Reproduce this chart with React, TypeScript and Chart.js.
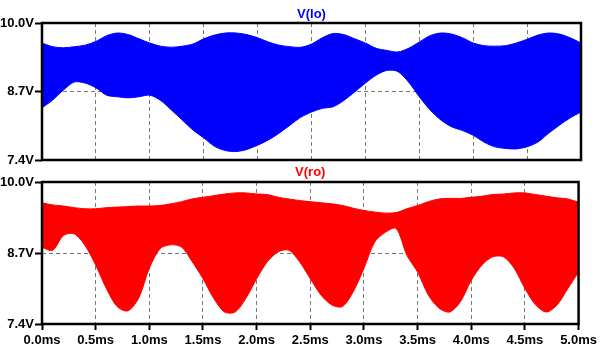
import React, { useEffect, useRef } from "react";
import { Chart, registerables } from "chart.js";
Chart.register(...registerables);

// time axis in ms
const timeMs = [
  0.0, 0.1, 0.2, 0.3, 0.4, 0.5, 0.6, 0.7, 0.8, 0.9,
  1.0, 1.1, 1.2, 1.3, 1.4, 1.5, 1.6, 1.7, 1.8, 1.9,
  2.0, 2.1, 2.2, 2.3, 2.4, 2.5, 2.6, 2.7, 2.8, 2.9,
  3.0, 3.1, 3.2, 3.3, 3.4, 3.5, 3.6, 3.7, 3.8, 3.9,
  4.0, 4.1, 4.2, 4.3, 4.4, 4.5, 4.6, 4.7, 4.8, 4.9,
  5.0,
];

// V(lo) envelope (upper / lower extent of the fast ripple)
const loUpper = [
  9.62, 9.55, 9.53, 9.55, 9.58, 9.65, 9.76, 9.81, 9.78, 9.70,
  9.62, 9.56, 9.54, 9.56, 9.60, 9.70, 9.77, 9.81, 9.81, 9.78,
  9.72, 9.64, 9.58, 9.55, 9.54, 9.60, 9.72, 9.80, 9.78, 9.70,
  9.62, 9.52, 9.48, 9.45, 9.52, 9.64, 9.76, 9.81, 9.79, 9.72,
  9.62, 9.57, 9.56, 9.57, 9.62, 9.69, 9.77, 9.81, 9.79, 9.72,
  9.62,
];
const loLower = [
  8.39, 8.54, 8.73, 8.88, 8.86, 8.77, 8.63, 8.60, 8.58, 8.60,
  8.63, 8.53, 8.35, 8.16, 7.97, 7.82, 7.66, 7.58, 7.56, 7.60,
  7.68, 7.78, 7.91, 8.06, 8.21, 8.31, 8.38, 8.41, 8.53, 8.69,
  8.86, 9.01, 9.10, 9.08, 8.88, 8.60, 8.35, 8.16, 8.03, 7.96,
  7.87, 7.74, 7.65, 7.62, 7.61, 7.65, 7.74, 7.91, 8.06, 8.20,
  8.31,
];

// V(ro) envelope
const roUpper = [
  9.62, 9.58, 9.56, 9.53, 9.51, 9.51, 9.53, 9.54, 9.55, 9.56,
  9.56, 9.57, 9.60, 9.64, 9.69, 9.72, 9.75, 9.78, 9.80, 9.80,
  9.78, 9.77, 9.72, 9.69, 9.66, 9.64, 9.62, 9.60, 9.57, 9.52,
  9.48, 9.45, 9.43, 9.44, 9.51, 9.57, 9.64, 9.69, 9.70, 9.70,
  9.72, 9.74, 9.77, 9.78, 9.80, 9.80, 9.77, 9.74, 9.71, 9.69,
  9.63,
];
const roLower = [
  8.80, 8.75, 9.02, 9.05, 8.84, 8.48, 8.05, 7.72, 7.64, 7.87,
  8.42, 8.78, 8.85, 8.81, 8.54, 8.23, 7.87, 7.62, 7.62, 7.87,
  8.23, 8.54, 8.72, 8.75, 8.54, 8.23, 7.93, 7.75, 7.72, 7.99,
  8.42, 8.90, 9.08, 9.15, 8.66, 8.35, 7.93, 7.69, 7.62, 7.81,
  8.20, 8.48, 8.63, 8.63, 8.42, 8.05, 7.75, 7.62, 7.75, 8.05,
  8.35,
];

const xTickValues = [0, 0.5, 1, 1.5, 2, 2.5, 3, 3.5, 4, 4.5, 5];
const xTickLabels = [
  "0.0ms", "0.5ms", "1.0ms", "1.5ms", "2.0ms", "2.5ms",
  "3.0ms", "3.5ms", "4.0ms", "4.5ms", "5.0ms",
];
const yTickValues = [7.4, 8.7, 10.0];
const yTickLabels = ["7.4V", "8.7V", "10.0V"];

const FONT_FAMILY = "'Liberation Sans', Arial, sans-serif";
const GRID_GRAY = "#777777";

const framePlugin = {
  id: "frame",
  afterDatasetsDraw(chart: any, _args: any, opts: any) {
    const { ctx, chartArea: a } = chart;
    ctx.save();
    ctx.strokeStyle = "#000";
    ctx.lineWidth = 2.5;
    ctx.strokeRect(a.left, a.top, a.right - a.left, a.bottom - a.top);
    ctx.restore();
  },
  afterDraw(chart: any, _args: any, opts: any) {
    const { ctx, chartArea: a } = chart;
    ctx.save();
    ctx.font = `bold 13px ${FONT_FAMILY}`;
    ctx.fillStyle = opts.color;
    ctx.textAlign = "center";
    ctx.textBaseline = "middle";
    ctx.fillText(opts.title, (a.left + a.right) / 2, opts.titleY);
    ctx.restore();
  },
};

type PaneProps = {
  top: number;
  height: number;
  areaTop: number;
  areaBottom: number;
  title: string;
  titleY: number;
  color: string;
  upper: number[];
  lower: number[];
  showX: boolean;
};

function Pane(p: PaneProps) {
  const ref = useRef<HTMLCanvasElement | null>(null);
  useEffect(() => {
    if (!ref.current) return;
    const upperPts = timeMs.map((t, i) => ({ x: t, y: p.upper[i] }));
    const lowerPts = timeMs.map((t, i) => ({ x: t, y: p.lower[i] }));
    const chart = new Chart(ref.current, {
      type: "line",
      data: {
        datasets: [
          {
            data: upperPts,
            borderColor: p.color,
            borderWidth: 1,
            pointRadius: 0,
            fill: false,
            tension: 0.3,
          },
          {
            data: lowerPts,
            borderColor: p.color,
            backgroundColor: p.color,
            borderWidth: 1,
            pointRadius: 0,
            fill: "-1",
            tension: 0.3,
          },
        ],
      },
      options: {
        responsive: false,
        animation: false,
        devicePixelRatio: 1,
        layout: { padding: { left: 0, right: 19, top: p.areaTop, bottom: 0 } },
        plugins: {
          legend: { display: false },
          tooltip: { enabled: false },
          title: { display: false },
          frame: { title: p.title, color: p.color, titleY: p.titleY },
        } as any,
        scales: {
          x: {
            type: "linear",
            min: 0,
            max: 5,
            afterBuildTicks: (scale: any) => {
              scale.ticks = xTickValues.map((v) => ({ value: v }));
            },
            afterFit: (scale: any) => {
              scale.height = p.height - p.areaBottom;
            },
            ticks: {
              display: p.showX,
              autoSkip: false,
              maxRotation: 0,
              minRotation: 0,
              padding: 3,
              color: "#000",
              font: { family: FONT_FAMILY, size: 13, weight: "bold" },
              callback: (_v: any, i: number) => xTickLabels[i],
            },
            grid: {
              display: true,
              drawTicks: p.showX,
              tickLength: 6,
              tickWidth: 2,
              tickColor: "#000",
              tickBorderDash: [],
              color: GRID_GRAY,
              lineWidth: 1,
              borderDash: [4, 3],
            } as any,
            border: { display: false, dash: [4, 3] },
          },
          y: {
            type: "linear",
            min: 7.4,
            max: 10.0,
            afterBuildTicks: (scale: any) => {
              scale.ticks = yTickValues.map((v) => ({ value: v }));
            },
            afterFit: (scale: any) => {
              scale.width = 42;
            },
            ticks: {
              padding: 1,
              color: "#000",
              font: { family: FONT_FAMILY, size: 13, weight: "bold" },
              callback: (_v: any, i: number) => yTickLabels[i],
            },
            grid: {
              display: true,
              drawTicks: true,
              tickLength: 7,
              tickWidth: 2,
              tickColor: "#000",
              tickBorderDash: [],
              color: GRID_GRAY,
              lineWidth: 1,
              borderDash: [4, 3],
            } as any,
            border: { display: false, dash: [4, 3] },
          },
        },
      } as any,
      plugins: [framePlugin],
    });
    return () => chart.destroy();
  }, []);
  return (
    <canvas
      ref={ref}
      width={600}
      height={p.height}
      style={{ position: "absolute", left: 0, top: p.top, width: 600, height: p.height, display: "block" }}
    />
  );
}

export default function App() {
  return (
    <div style={{ position: "fixed", left: 0, top: 0, width: 600, height: 351, background: "#fff", overflow: "hidden" }}>
      <Pane
        top={0}
        height={172}
        areaTop={23}
        areaBottom={160}
        title="V(lo)"
        titleY={14}
        color="#0000ff"
        upper={loUpper}
        lower={loLower}
        showX={false}
      />
      <Pane
        top={162}
        height={189}
        areaTop={20}
        areaBottom={162}
        title="V(ro)"
        titleY={10}
        color="#ff0000"
        upper={roUpper}
        lower={roLower}
        showX={true}
      />
    </div>
  );
}
